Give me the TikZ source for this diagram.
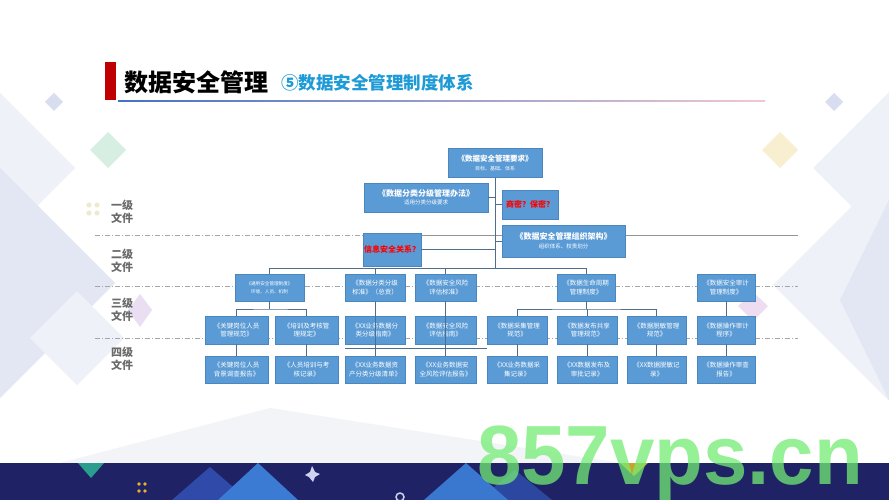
\documentclass[tikz,border=0pt]{standalone}
\usepackage{fontspec}
\setmainfont{Noto Sans CJK SC}
\newfontfamily\wmfont{Liberation Sans}
\definecolor{boxblue}{HTML}{5B9BD5}
\definecolor{boxline}{HTML}{4A86C0}
\definecolor{connc}{HTML}{4F6D8C}
\definecolor{sepc}{HTML}{A6A6A6}
\definecolor{lvlc}{HTML}{6A6A6A}
\definecolor{titred}{HTML}{C00000}
\definecolor{subblue}{HTML}{1E9BD7}
\definecolor{navy}{HTML}{202266}
\definecolor{paleA}{HTML}{EEF1F8}
\definecolor{paleB}{HTML}{E3E7F3}
\definecolor{paleG}{HTML}{F3F4F8}
\definecolor{wmgreen}{HTML}{74EC74}
\definecolor{pinkc}{HTML}{EEDDF1}
\definecolor{purpc}{HTML}{EADFF2}
\definecolor{dblue}{HTML}{D8DEEF}
\definecolor{dgreen}{HTML}{D6EFE2}
\definecolor{dyellow}{HTML}{F8EFD0}
\definecolor{dotyel}{HTML}{EFEACB}
\definecolor{tealc}{HTML}{2A9D8F}
\definecolor{goldc}{HTML}{E6B428}
\definecolor{triA}{HTML}{2F4AA8}
\definecolor{triB}{HTML}{3B7BD4}
\definecolor{starc}{HTML}{CDD2F0}
\definecolor{triC}{HTML}{2C47A0}
\definecolor{triD}{HTML}{3A78CF}
\definecolor{goldtri}{HTML}{C9A227}
\definecolor{lineL}{HTML}{4472C4}
\definecolor{lineR}{HTML}{F0C8D2}
\tikzset{
  bx/.style={draw=boxline, line width=0.5pt, fill=boxblue, text=white, align=center,
    inner sep=1pt, font=\fontsize{6.5}{8.5}\selectfont, minimum height=27pt},
  redq/.style={draw=boxline, line width=0.5pt, fill=boxblue, text=red, align=center,
    inner sep=1pt, font=\fontsize{8}{9}\selectfont\bfseries},
  conn/.style={draw=connc, line width=0.7pt},
  sepline/.style={draw=sepc, line width=0.6pt, dash pattern=on 5pt off 2pt on 1pt off 2pt},
  sepsolid/.style={draw=sepc!90!black, line width=0.6pt},
  lvl/.style={text=lvlc, font=\fontsize{11}{13}\selectfont\bfseries, align=center}
}
\begin{document}
\begin{tikzpicture}[x=1pt,y=-1pt]
\useasboundingbox (0,0) rectangle (889,500);
\fill[white] (0,0) rectangle (889,500);
% background decorations
\fill[paleA] (0,93) -- (75,168) -- (0,243) -- cycle;
\fill[paleB] (0,168) -- (115,283) -- (0,398) -- cycle;
\fill[paleA] (30,338) -- (77,291) -- (124,338) -- (77,385) -- cycle;
\fill[paleA] (889,92) -- (813,168) -- (889,244) -- cycle;
\fill[paleA] (889,169) -- (773,285) -- (889,401) -- cycle;
\fill[paleB] (889,200) -- (840,300) -- (889,400) -- cycle;
\fill[paleG] (60,463) -- (270,408) -- (620,463) -- cycle;
\fill[pinkc] (753,292) -- (768,306) -- (753,321) -- (738,306) -- cycle;
\fill[purpc] (140,294) -- (152,310) -- (140,327) -- (128,310) -- cycle;
\fill[dblue] (54,93) -- (63,102) -- (54,111) -- (45,102) -- cycle;
\fill[dgreen] (108,132) -- (126,150) -- (108,168) -- (90,150) -- cycle;
\fill[dyellow] (780,132) -- (798,150) -- (780,168) -- (762,150) -- cycle;
\fill[dblue] (834,93) -- (843,102) -- (834,111) -- (825,102) -- cycle;
\foreach \dx/\dy in {0/0,8/0,0/8,8/8}{\fill[dotyel] (89+\dx,205+\dy) circle (2.6);}
% bottom band
\fill[navy] (0,463) rectangle (889,500);
\fill[tealc] (78,463) -- (104,463) -- (91,478) -- cycle;
\foreach \dx/\dy in {0/0,6/0,0/7,6/7}{\fill[goldc] (139+\dx,484+\dy) circle (1.8);}
\fill[triA] (172,500) -- (210,467) -- (248,500) -- cycle;
\fill[triB] (218,500) -- (258,463) -- (298,500) -- cycle;
\fill[starc] (312,466) -- (315,472) -- (320,474) -- (315,477) -- (313,482) -- (309,477) -- (305,475) -- (310,472) -- cycle;
\draw[starc, line width=1.5pt] (400,497) circle (4);
\fill[triC] (478,500) -- (515,470) -- (552,500) -- cycle;
\fill[triD] (424,500) -- (466,463) -- (508,500) -- cycle;
\fill[goldtri] (620,463) -- (648,463) -- (634,476) -- cycle;
% title
\fill[titred] (105,62) rectangle (116,100);
\shade[left color=lineL, right color=lineR] (118,100.5) rectangle (765,101.6);
\node[anchor=west, inner sep=0pt, font=\fontsize{24}{26}\selectfont\bfseries] (title) at (124,82) {数据安全管理};
\node[anchor=west, inner sep=0pt, text=subblue, font=\fontsize{17.5}{19}\selectfont\bfseries] (subtitle) at (281,83) {⑤数据安全管理制度体系};
% level labels
\node[lvl] (L1) at (122,212) {一级\\文件};
\node[lvl] (L2) at (122,261) {二级\\文件};
\node[lvl] (L3) at (122,310) {三级\\文件};
\node[lvl] (L4) at (122,359) {四级\\文件};
% separators
\coordinate (s1a) at (95,235); \coordinate (s1m) at (422,235); \coordinate (s1b) at (798,235);
\coordinate (s2a) at (95,286); \coordinate (s2b) at (798,286);
\coordinate (s3a) at (95,338); \coordinate (s3b) at (798,338);
\draw[sepline] (s1a) -- (s1m);
\draw[sepsolid] (s1m) -- (s1b);
\draw[sepline] (s2a) -- (s2b);
\draw[sepline] (s3a) -- (s3b);
% top boxes
\node[bx, minimum width=94pt, minimum height=29pt] (B1) at (495,163)
  {{\fontsize{7.5}{9}\selectfont\bfseries《数据安全管理要求》}\\{\fontsize{5}{6.5}\selectfont 目标、基础、体系}};
\node[bx, minimum width=124pt, minimum height=29pt] (B2) at (426,197.5)
  {{\fontsize{8}{10}\selectfont\bfseries《数据分类分级管理办法》}\\{\fontsize{5.5}{7}\selectfont 适用分类分级要求}};
\node[redq, minimum width=56pt, minimum height=29pt] (R1) at (530,204.5) {商密？保密？};
\node[bx, minimum width=123pt, minimum height=32pt] (B3) at (563.5,241)
  {{\fontsize{8}{10}\selectfont\bfseries《数据安全管理组织架构》}\\{\fontsize{5.5}{7}\selectfont 组织体系、权责划分}};
\node[redq, minimum width=58pt, minimum height=33pt, inner sep=0pt] (R2) at (392,249.5) {信息安全关系？};
% row 3
\node[bx, minimum width=69pt] (C1) at (269.5,287.5)
  {{\fontsize{4.6}{6.5}\selectfont《通用安全管理制度》}\\{\fontsize{4.6}{6.5}\selectfont 环境、人员、机制}};
\node[bx, minimum width=60pt] (C2) at (375,287.5) {《数据分类分级\\标准》（总贡）};
\node[bx, minimum width=61pt] (C3) at (445.5,287.5) {《数据安全风险\\评估标准》};
\node[bx, minimum width=58pt] (C4) at (586,287.5) {《数据生命周期\\管理制度》};
\node[bx, minimum width=58pt] (C5) at (726,287.5) {《数据安全审计\\管理制度》};
% row 4
\node[bx, minimum width=63pt, minimum height=28pt] (r4a) at (236.5,330) {《关键岗位人员\\管理规范》};
\node[bx, minimum width=63pt, minimum height=28pt] (r4b) at (306.5,330) {《培训及考核管\\理规定》};
\node[bx, minimum width=60pt, minimum height=28pt] (r4c) at (375,330) {《XX业务数据分\\类分级指南》};
\node[bx, minimum width=61pt, minimum height=28pt] (r4d) at (445.5,330) {《数据安全风险\\评估指南》};
\node[bx, minimum width=60pt, minimum height=28pt] (r4e) at (517,330) {《数据采集管理\\规范》};
\node[bx, minimum width=60pt, minimum height=28pt] (r4f) at (587,330) {《数据发布共享\\管理规范》};
\node[bx, minimum width=59pt, minimum height=28pt] (r4g) at (656.5,330) {《数据脱敏管理\\规范》};
\node[bx, minimum width=58pt, minimum height=28pt] (r4h) at (726,330) {《数据操作审计\\程序》};
% row 5
\node[bx, minimum width=63pt] (r5a) at (236.5,369.5) {《关键岗位人员\\背景调查报告》};
\node[bx, minimum width=63pt] (r5b) at (306.5,369.5) {《人员培训与考\\核记录》};
\node[bx, minimum width=60pt] (r5c) at (375,369.5) {《XX业务数据资\\产分类分级清单》};
\node[bx, minimum width=61pt] (r5d) at (445.5,369.5) {《XX业务数据安\\全风险评估报告》};
\node[bx, minimum width=60pt] (r5e) at (517,369.5) {《XX业务数据采\\集记录》};
\node[bx, minimum width=60pt] (r5f) at (587,369.5) {《XX数据发布及\\审批记录》};
\node[bx, minimum width=59pt] (r5g) at (656.5,369.5) {《XX数据脱敏记\\录》};
\node[bx, minimum width=58pt] (r5h) at (726,369.5) {《数据操作审查\\报告》};
% connectors
\coordinate (bus) at (495,268);
\draw[conn] (B1.south) -- (bus);
\draw[conn] (B2.east) -- (B2.east -| B1.south);
\draw[conn] (R1.west) -- (R1.west -| B1.south);
\draw[conn] (B3.west) -- (B3.west -| B1.south);
\draw[conn] (R2.east) -- (R2.east -| B1.south);
\draw[conn] (C1.north) |- (bus);
\draw[conn] (C4.north) |- (bus);
\draw[conn] (C2.north) -- (C2.north |- bus);
\draw[conn] (C3.north) -- (C3.north |- bus);
\coordinate (k1) at (269.5,309);
\coordinate (k2) at (586,309);
\draw[conn] (C1.south) -- (k1);
\draw[conn] (r4a.north) |- (k1) -| (r4b.north);
\draw[conn] (C4.south) -- (k2);
\draw[conn] (r4e.north) |- (k2) -| (r4g.north);
\draw[conn] (r4f.north) -- (r4f.north |- k2);
\draw[conn] (C5.south) -- (r4h.north);
\draw[conn] (C2.south) -- (r5c.north);
\draw[conn] (C3.south) -- (r5d.north);
\draw[conn] (r4a.south) -- (r5a.north);
\draw[conn] (r4b.south) -- (r5b.north);
\draw[conn] (r4e.south) -- (r5e.north);
\draw[conn] (r4f.south) -- (r5f.north);
\draw[conn] (r4g.south) -- (r5g.north);
\draw[conn] (r4h.south) -- (r5h.north);
\coordinate (h1) at (345,348);
\draw[conn] (h1) -- (h1 -| r4e.west);
% watermark
\node[anchor=base west, inner sep=0pt, text=wmgreen, opacity=0.75, xscale=0.95, font=\wmfont\bfseries\fontsize{84}{84}\selectfont] (wm) at (477,484) {857vps.cn};
\end{tikzpicture}
\end{document}
